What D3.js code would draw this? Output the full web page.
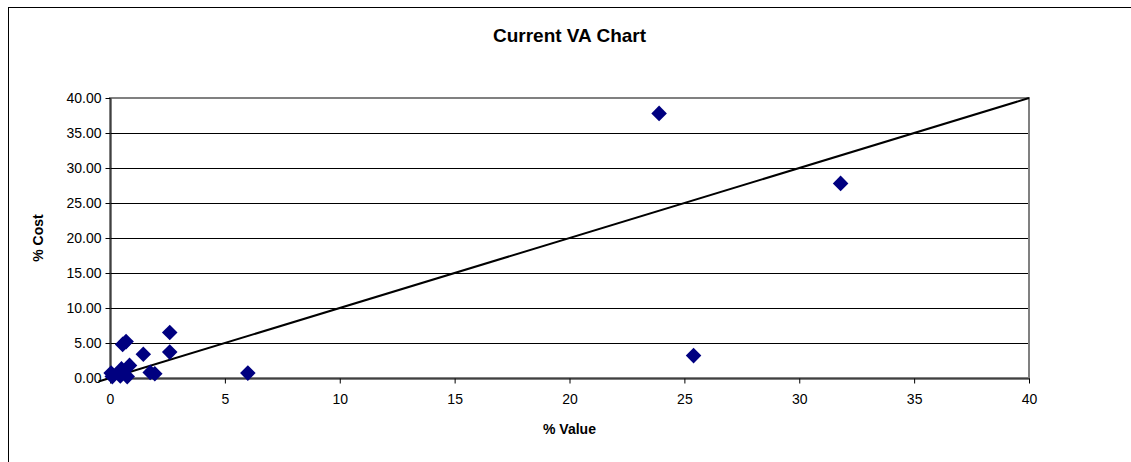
<!DOCTYPE html>
<html><head><meta charset="utf-8">
<script src="https://cdn.jsdelivr.net/npm/d3@7"></script>
<style>body{margin:0;background:#fff;} text{font-family:Arial,"Liberation Sans",sans-serif;}</style>
</head><body>
<svg id="c" width="1131" height="462"></svg>
<script>
const title = "Current VA Chart";
const xLabel = "% Value";
const yLabel = "% Cost";
const valuePct = [0.05, 0.1, 0.45, 0.5, 0.75, 0.85, 0.55, 0.7, 1.45, 1.75, 1.95, 2.6, 2.6, 6.0, 23.9, 25.4, 31.8];
const costPct  = [0.7, 0.2, 0.3, 1.3, 0.2, 1.8, 4.8, 5.2, 3.4, 0.8, 0.6, 3.7, 6.5, 0.7, 37.8, 3.2, 27.8];
const xTicks = [0, 5, 10, 15, 20, 25, 30, 35, 40];
const yTicks = [0, 5, 10, 15, 20, 25, 30, 35, 40];
const trendX = [-0.5, 40];
const trendY = [-0.5, 40];

const svg = d3.select("#c");
const L = 110, R = 1029, T = 98, B = 378;
const x = d3.scaleLinear().domain([0, 40]).range([L, R]);
const y = d3.scaleLinear().domain([0, 40]).range([B, T]);

// outer frame
svg.append("rect").attr("x", 8.5).attr("y", 7.5).attr("width", 1140).attr("height", 470)
  .attr("fill", "#fff").attr("stroke", "#000").attr("stroke-width", 1);

// gridlines
svg.append("g").selectAll("line").data(yTicks.filter(d => d > 0 && d < 40)).join("line")
  .attr("x1", L).attr("x2", R).attr("y1", d => Math.round(y(d)) + 0.5).attr("y2", d => Math.round(y(d)) + 0.5)
  .attr("stroke", "#000").attr("stroke-width", 1);

// plot area border (gray)
svg.append("rect").attr("x", L).attr("y", T).attr("width", R - L).attr("height", B - T)
  .attr("fill", "none").attr("stroke", "#808080").attr("stroke-width", 2);

// axes
const yAxis = d3.axisLeft(y).tickValues(yTicks).tickFormat(d3.format(".2f")).tickSize(5).tickSizeOuter(0);
const gy = svg.append("g").attr("transform", `translate(${L + 0.5},0)`).call(yAxis);
const xAxis = d3.axisBottom(x).tickValues(xTicks).tickFormat(d3.format("d")).tickSize(5).tickSizeOuter(0);
const gx = svg.append("g").attr("transform", `translate(0,${B + 0.5})`).call(xAxis);
[gx, gy].forEach(g => {
  g.select(".domain").attr("stroke", "#000");
  g.selectAll(".tick line").attr("stroke", "#000");
  g.selectAll(".tick text").attr("fill", "#000").style("font-size", "14px").style("font-family", "Arial, 'Liberation Sans', sans-serif");
});
gx.selectAll(".tick text").attr("dy", "0.71em").attr("y", 16);
gy.selectAll(".tick text").attr("x", -9);

// trendline
svg.append("line").attr("x1", x(trendX[0])).attr("y1", y(trendY[0])).attr("x2", x(trendX[1])).attr("y2", y(trendY[1]))
  .attr("stroke", "#000").attr("stroke-width", 2);

// points
const diamond = d3.symbol().type(d3.symbolSquare).size(121);
svg.append("g").selectAll("path").data(valuePct.map((v, i) => [v, costPct[i]])).join("path")
  .attr("d", diamond)
  .attr("transform", d => `translate(${x(d[0])},${y(d[1])}) rotate(45)`)
  .attr("fill", "#000080");

// title & labels
svg.append("text").attr("x", (L + R) / 2).attr("y", 42).attr("text-anchor", "middle")
  .style("font-size", "19px").style("font-weight", "bold").text(title);
svg.append("text").attr("x", (L + R) / 2).attr("y", 434).attr("text-anchor", "middle")
  .style("font-size", "14px").style("font-weight", "bold").text(xLabel);
svg.append("text").attr("transform", `translate(43,${(T + B) / 2}) rotate(-90)`).attr("text-anchor", "middle")
  .style("font-size", "14px").style("font-weight", "bold").text(yLabel);
</script>
</body></html>
